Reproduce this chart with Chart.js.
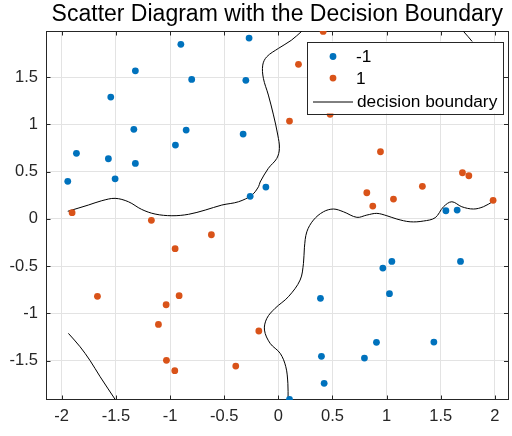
<!DOCTYPE html>
<html>
<head>
<meta charset="utf-8">
<script src="https://cdn.jsdelivr.net/npm/chart.js@4/dist/chart.umd.min.js"></script>
<style>
  html, body { margin: 0; padding: 0; background: #fff; }
</style>
</head>
<body>
<canvas id="chartBoundary" width="512" height="436"></canvas>
<script>
// class -1
var negX = [-0.90, -0.27, -1.32, -0.80, -0.30, -1.547, -1.334, -0.851, -0.325, -0.95,
            -1.864, -1.569, -1.32, -1.507, -1.944, -0.115, -0.26, 1.547, 1.651, 1.048,
            0.965, 1.682, 1.026, 0.389, 0.906, 1.436, 0.398, 0.795, 0.423, 0.103];
var negY = [1.847, 1.913, 1.567, 1.476, 1.466, 1.289, 0.947, 0.94, 0.897, 0.781,
            0.693, 0.636, 0.587, 0.424, 0.397, 0.336, 0.238, 0.086, 0.093, -0.45,
            -0.521, -0.45, -0.792, -0.841, -1.307, -1.304, -1.455, -1.473, -1.741, -1.91];

// class 1
var posX = [0.414, 0.186, 0.103, 0.478, 0.943, 1.70, 1.759, 1.33, 0.817, 1.063,
            0.872, 1.983, -1.904, -1.172, -0.618, -0.953, -1.67, -0.916, -1.036, -1.107,
            -0.18, -1.033, -0.393, -0.956];
var posY = [1.984, 1.635, 1.035, 1.106, 0.71, 0.488, 0.456, 0.344, 0.276, 0.209,
            0.135, 0.196, 0.065, -0.016, -0.168, -0.316, -0.82, -0.813, -0.909, -1.117,
            -1.187, -1.497, -1.558, -1.607];

// decision boundary pieces (contour lines)
var bndAX = [-1.944, -1.754, -1.63, -1.507, -1.384, -1.262, -1.138, -0.983, -0.829, -0.675,
             -0.522, -0.368, -0.244, -0.183, -0.168, -0.092, -0.014, 0.01, -0.005, -0.045,
             -0.092, -0.138, -0.144, -0.107, 0.001, 0.12, 0.215];
var bndAY = [0.08, 0.146, 0.192, 0.217, 0.181, 0.1, 0.051, 0.033, 0.048, 0.093,
             0.146, 0.181, 0.252, 0.34, 0.39, 0.535, 0.64, 0.746, 0.887, 1.1,
             1.31, 1.487, 1.627, 1.715, 1.804, 1.89, 1.984];
var bndBX = [1.709, 1.796, 1.9];
var bndBY = [1.984, 1.868, 1.7];
var bndCX = [0.09, 0.088, 0.069, 0.017, -0.076, -0.128, -0.106, -0.03, 0.093, 0.201,
             0.232, 0.241, 0.263, 0.324, 0.416, 0.509, 0.601, 0.725, 0.817, 0.909,
             1.002, 1.094, 1.217, 1.34, 1.448, 1.525, 1.602, 1.694, 1.801, 1.893, 1.983];
var bndCY = [-1.91, -1.74, -1.565, -1.423, -1.317, -1.177, -1.053, -0.947, -0.824, -0.648,
             -0.471, -0.3, -0.137, -0.013, 0.075, 0.104, 0.075, 0.016, 0.04, 0.058,
             0.033, -0.002, -0.031, -0.023, 0.012, 0.128, 0.181, 0.128, 0.104, 0.128, 0.185];
var bndDX = [-1.938, -1.83, -1.738, -1.645, -1.507];
var bndDY = [-1.212, -1.354, -1.5, -1.671, -1.91];

var xTicks = [-2, -1.5, -1, -0.5, 0, 0.5, 1, 1.5, 2];
var yTicks = [-1.5, -1, -0.5, 0, 0.5, 1, 1.5];

var blue = '#0072BD';
var orange = '#D95319';
var axisColor = '#262626';
var fontName = "'Liberation Sans', Arial, sans-serif";

function toPoints(xs, ys) {
    return xs.map(function(x, i) { return { x: x, y: ys[i] }; });
}

function boundary(xs, ys) {
    return {
        label: 'decision boundary',
        data: toPoints(xs, ys),
        showLine: true,
        borderColor: '#000',
        borderWidth: 1,
        pointRadius: 0,
        tension: 0.35,
        fill: false
    };
}

// axes box + inward ticks like matlab
var axesBox = {
    id: 'axesBox',
    beforeDatasetsDraw: function(chart) {
        var ctx = chart.ctx, a = chart.chartArea;
        var sx = chart.scales.x, sy = chart.scales.y;
        var len = 4.5;
        ctx.save();
        ctx.strokeStyle = axisColor;
        ctx.lineWidth = 1;
        ctx.beginPath();
        xTicks.forEach(function(v) {
            var p = Math.round(sx.getPixelForValue(v)) + 0.5;
            ctx.moveTo(p, a.bottom); ctx.lineTo(p, a.bottom - len);
            ctx.moveTo(p, a.top); ctx.lineTo(p, a.top + len);
        });
        yTicks.forEach(function(v) {
            var p = Math.round(sy.getPixelForValue(v)) + 0.5;
            ctx.moveTo(a.left, p); ctx.lineTo(a.left + len, p);
            ctx.moveTo(a.right, p); ctx.lineTo(a.right - len, p);
        });
        ctx.stroke();
        ctx.strokeRect(Math.round(a.left) + 0.5, Math.round(a.top) + 0.5,
                       Math.round(a.right - a.left) - 1, Math.round(a.bottom - a.top) - 1);
        ctx.restore();
    }
};

// legend drawn inside the axes (north east)
var innerLegend = {
    id: 'innerLegend',
    afterDraw: function(chart) {
        var ctx = chart.ctx, a = chart.chartArea;
        var w = 196, h = 72;
        var x0 = a.right - 5.5 - w, y0 = a.top + 10.5;
        ctx.save();
        ctx.fillStyle = '#fff';
        ctx.fillRect(x0, y0, w, h);
        ctx.strokeStyle = axisColor;
        ctx.lineWidth = 1;
        ctx.strokeRect(Math.round(x0) + 0.5, Math.round(y0) + 0.5, w, h);

        ctx.font = '17.3px ' + fontName;
        ctx.textBaseline = 'middle';
        ctx.textAlign = 'left';

        ctx.fillStyle = blue;
        ctx.beginPath(); ctx.arc(x0 + 26, y0 + 15, 3.4, 0, Math.PI * 2); ctx.fill();
        ctx.fillStyle = '#000';
        ctx.fillText('-1', x0 + 49, y0 + 16);

        ctx.fillStyle = orange;
        ctx.beginPath(); ctx.arc(x0 + 26, y0 + 36.6, 3.4, 0, Math.PI * 2); ctx.fill();
        ctx.fillStyle = '#000';
        ctx.fillText('1', x0 + 49, y0 + 37.6);

        ctx.strokeStyle = '#000';
        ctx.beginPath();
        ctx.moveTo(x0 + 6, y0 + 60.5); ctx.lineTo(x0 + 46, y0 + 60.5);
        ctx.stroke();
        ctx.fillText('decision boundary', x0 + 50, y0 + 61);
        ctx.restore();
    }
};

var ctx = document.getElementById('chartBoundary');
var myChart = new Chart(ctx, {
    type: 'scatter',
    data: {
        datasets: [{
            label: '-1',
            data: toPoints(negX, negY),
            backgroundColor: blue,
            borderWidth: 0,
            pointRadius: 3.4,
            pointHoverRadius: 3.4
        }, {
            label: '1',
            data: toPoints(posX, posY),
            backgroundColor: orange,
            borderWidth: 0,
            pointRadius: 3.4,
            pointHoverRadius: 3.4
        },
        boundary(bndAX, bndAY),
        boundary(bndBX, bndBY),
        boundary(bndCX, bndCY),
        boundary(bndDX, bndDY)]
    },
    options: {
        responsive: false,
        animation: false,
        events: [],
        layout: { padding: { left: 0, right: 3.5, top: 0, bottom: 0 } },
        plugins: {
            legend: { display: false },
            tooltip: { enabled: false },
            title: {
                display: true,
                fullSize: false,
                text: 'Scatter Diagram with the Decision Boundary',
                color: '#000',
                font: { family: fontName, size: 23, weight: 'normal' },
                padding: { top: 1.2, bottom: 2.2 }
            }
        },
        scales: {
            x: {
                type: 'linear',
                min: -2.145,
                max: 2.125,
                afterBuildTicks: function(scale) {
                    scale.ticks = xTicks.map(function(v) { return { value: v }; });
                },
                afterFit: function(scale) { scale.height = 36; },
                grid: { color: '#e3e3e3', drawTicks: false },
                border: { display: false },
                ticks: {
                    color: axisColor,
                    padding: 7,
                    maxRotation: 0,
                    font: { family: fontName, size: 16.5 },
                    callback: function(v) { return String(v); }
                }
            },
            y: {
                type: 'linear',
                min: -1.917,
                max: 1.988,
                afterBuildTicks: function(scale) {
                    scale.ticks = yTicks.map(function(v) { return { value: v }; });
                },
                afterFit: function(scale) { scale.width = 46; },
                grid: { color: '#e3e3e3', drawTicks: false },
                border: { display: false },
                ticks: {
                    color: axisColor,
                    padding: 8,
                    font: { family: fontName, size: 16.5 },
                    callback: function(v) { return String(v); }
                }
            }
        }
    },
    plugins: [axesBox, innerLegend]
});
</script>
</body>
</html>
